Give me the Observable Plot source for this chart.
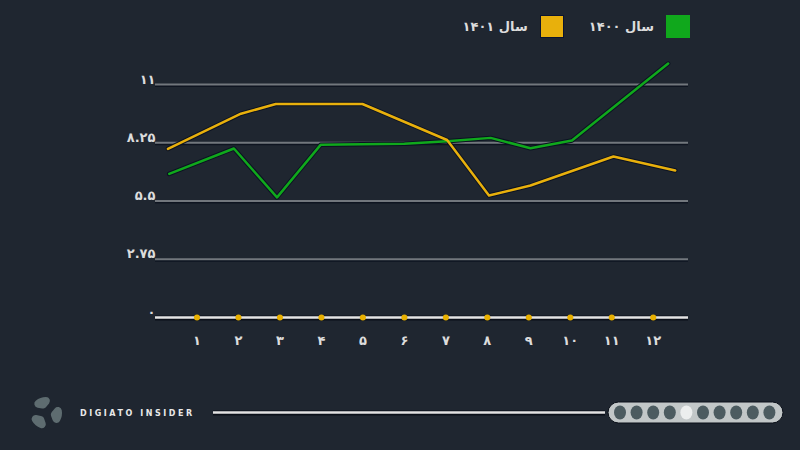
<!DOCTYPE html>
<html><head><meta charset="utf-8">
<script src="https://cdn.jsdelivr.net/npm/d3@7"></script>
<script src="https://cdn.jsdelivr.net/npm/@observablehq/plot@0.6"></script>
<style>
html,body{margin:0;padding:0;background:#1f2630;}
#wrap{position:relative;width:800px;height:450px;overflow:hidden;background:#1f2630;font-family:"DejaVu Sans",sans-serif;}
#chart{position:absolute;left:0;top:0;}
#legend{position:absolute;top:15px;right:110px;display:flex;flex-direction:row;align-items:center;direction:ltr;}
#legend .sw{width:24px;height:23px;box-sizing:border-box;}
#legend .lb{color:#dcdcdc;font-size:13px;font-weight:bold;white-space:nowrap;direction:rtl;}
#footer{position:absolute;left:0;top:385px;}
</style>
</head><body>
<div id="wrap">
  <div id="chart"></div>
  <div id="legend"></div>
  <svg id="footer" width="800" height="60"></svg>
</div>
<script>
// ---- data ----
const months = [1,2,3,4,5,6,7,8,9,10,11,12];
const monthLabels = ["۱","۲","۳","۴","۵","۶","۷","۸","۹","۱۰","۱۱","۱۲"];
const yTicks = [0, 2.75, 5.5, 8.25, 11];
const yTickLabels = ["۰","۲.۷۵","۵.۵","۸.۲۵","۱۱"];
const gridValues = [2.75, 5.5, 8.25, 11];

const seriesNames = ["سال ۱۴۰۰", "سال ۱۴۰۱"];
const seriesColors = ["#10a81c", "#e8b00c"];

// positions (in month units) and values
const x1400 = [0.33, 1.89, 2.93, 3.98, 6.0, 7.03, 8.08, 9.04, 10.04, 12.36];
const v1400 = [6.78, 7.98, 5.67, 8.15, 8.20, 8.32, 8.48, 7.99, 8.36, 11.99];
const x1401 = [0.30, 2.06, 2.90, 4.99, 7.03, 8.04, 9.04, 11.04, 12.53];
const v1401 = [7.96, 9.62, 10.08, 10.08, 8.38, 5.76, 6.23, 7.60, 6.94];

const footerDots = [0,1,2,3,4,5,6,7,8,9];
const activeDot = 4;

// ---- build table ----
const rows = [];
x1400.forEach((x,i)=>rows.push({series: seriesNames[0], x, v: v1400[i]}));
x1401.forEach((x,i)=>rows.push({series: seriesNames[1], x, v: v1401[i]}));

const chart = Plot.plot({
  width: 800, height: 450,
  marginLeft: 155, marginRight: 112, marginTop: 84, marginBottom: 133,
  style: {background: "transparent", color: "#dcdcdc", fontFamily: "DejaVu Sans", overflow: "visible"},
  x: {domain: [0, 12.85]},
  y: {domain: [0, 11]},
  color: {domain: seriesNames, range: seriesColors},
  marks: [
    Plot.ruleY(gridValues, {stroke: "#0e1420", strokeWidth: 2, dy: 1.5}),
    Plot.ruleY(gridValues, {stroke: "#72777d", strokeWidth: 2}),
    Plot.ruleY([0], {stroke: "#0a0f18", strokeWidth: 5, dy: 0.5}),
    Plot.ruleY([0], {stroke: "#e4e4e4", strokeWidth: 2.5}),
    Plot.dot(months, {x: d => d, y: () => 0, r: 3, fill: "#e8b000", stroke: "none"}),
    Plot.axisX({ticks: months, tickFormat: (d) => monthLabels[months.indexOf(d)], tickSize: 0, tickPadding: 18, fontSize: 13, fontWeight: "bold", fill: "#dcdcdc", label: null}),
    Plot.axisY({ticks: yTicks, tickFormat: (d) => yTickLabels[yTicks.indexOf(d)], tickSize: 0, tickPadding: 0, dy: -5, fontSize: 13, fontWeight: "bold", fill: "#dcdcdc", label: null}),
    Plot.line(rows, {x: "x", y: "v", z: "series", stroke: "#0b1222", strokeWidth: 4.5, strokeLinejoin: "round"}),
    Plot.line(rows, {x: "x", y: "v", z: "series", stroke: "series", strokeWidth: 2.5, strokeLinejoin: "round"})
  ]
});
document.getElementById("chart").appendChild(chart);

// ---- legend (right-to-left: 1400 at the right) ----
const legend = d3.select("#legend");
[1, 0].forEach((i, k) => {
  legend.append("div").attr("class","lb").style("margin-right","12px").text(seriesNames[i]);
  legend.append("div").attr("class","sw")
    .style("background", seriesColors[i])
    .style("border", i === 1 ? "1.5px solid #0b1430" : "none")
    .style("margin-right", k === 0 ? "25px" : "0");
});

// ---- footer ----
const f = d3.select("#footer");
const arc = d3.arc().innerRadius(5).outerRadius(16).cornerRadius(4).padAngle(0.45);
const logo = f.append("g").attr("transform","translate(46,28)");
[-20, 100, 220].forEach(c => {
  logo.append("path").attr("d", arc({startAngle:(c-60)*Math.PI/180, endAngle:(c+60)*Math.PI/180})).attr("fill","#5e6c70");
});
f.append("text").attr("x",80).attr("y",31).attr("fill","#e8e8e8").attr("font-size",8).attr("font-weight","bold")
  .attr("font-family","DejaVu Sans").attr("letter-spacing",0.9).attr("textLength",113).text("DIGIATO INSIDER");
f.append("line").attr("x1",213).attr("x2",605).attr("y1",28).attr("y2",28).attr("stroke","#0a0f18").attr("stroke-width",5);
f.append("line").attr("x1",213).attr("x2",605).attr("y1",27.5).attr("y2",27.5).attr("stroke","#e2e2e2").attr("stroke-width",2.5);
f.append("rect").attr("x",608).attr("y",17).attr("width",175).attr("height",21).attr("rx",10.5).attr("fill","#c2c7c8").attr("stroke","#0a0f18").attr("stroke-width",1);
footerDots.forEach(i => {
  f.append("ellipse").attr("cx", 620 + i*16.6).attr("cy", 27.5).attr("rx", 6).attr("ry", 7)
    .attr("fill", i === activeDot ? "#eceeee" : "#4c5b60");
});
</script>
</body></html>
